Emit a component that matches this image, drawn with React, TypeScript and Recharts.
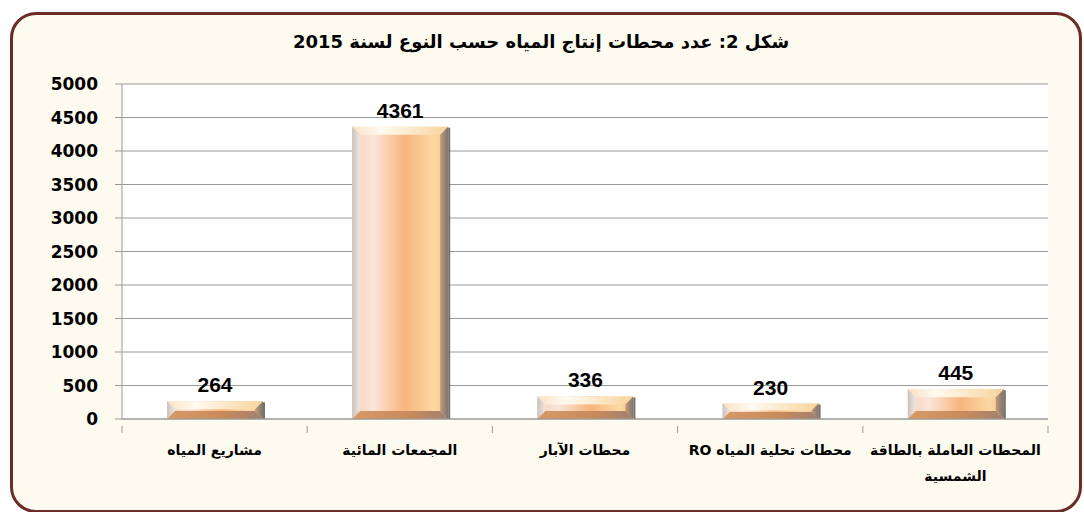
import React from 'react'
import { BarChart, Bar, XAxis, YAxis, CartesianGrid, LabelList } from 'recharts'

const categories = [
  'مشاريع المياه',
  'المجمعات المائية',
  'محطات الآبار',
  'محطات تحلية المياه RO',
  'المحطات العاملة بالطاقة الشمسية',
]
const stations = [264, 4361, 336, 230, 445]
const yTicks = [0, 500, 1000, 1500, 2000, 2500, 3000, 3500, 4000, 4500, 5000]
const title = 'شكل 2: عدد محطات إنتاج المياه حسب النوع لسنة 2015'

const chartData = categories.map((name, i) => ({ name, value: stations[i] }))

const BAND = 185.2

// Excel-style bevelled bar
const BevelBar = (props: any) => {
  const { x, y, width, height } = props
  if (!height || height <= 0) return null
  const b = Math.min(8, height / 2.2)
  const r = x + width
  const btm = y + height
  return (
    <g>
      <rect x={x} y={y} width={width} height={height} fill="url(#barBody)" />
      <polygon points={`${x},${y} ${r},${y} ${r - b},${y + b} ${x + b},${y + b}`} fill="url(#bevelTop)" />
      <polygon points={`${x},${y} ${x + b},${y + b} ${x + b},${btm - b} ${x},${btm}`} fill="url(#bevelLeft)" />
      <polygon points={`${r},${y} ${r},${btm} ${r - b},${btm - b} ${r - b},${y + b}`} fill="url(#bevelRight)" />
      <polygon points={`${x},${btm} ${x + b},${btm - b} ${r - b},${btm - b} ${r},${btm}`} fill="url(#bevelBottom)" />
      <line x1={r + 1} y1={y + 1} x2={r + 1} y2={btm} stroke="#77716c" strokeWidth={2} />
    </g>
  )
}

const XTick = (props: any) => {
  const { x, y, payload, index } = props
  const text: string = payload.value
  let lines = [text]
  if (text.length > 25) {
    const cut = text.lastIndexOf(' ')
    lines = [text.slice(0, cut), text.slice(cut + 1)]
  }
  const left = x - BAND / 2
  return (
    <g>
      <line x1={left} y1={y - 1} x2={left} y2={y + 6} stroke="#999" />
      {index === categories.length - 1 && (
        <line x1={x + BAND / 2} y1={y - 1} x2={x + BAND / 2} y2={y + 6} stroke="#999" />
      )}
      <text
        x={x}
        y={y + 28}
        textAnchor="middle"
        direction="rtl"
        fontFamily="DejaVu Sans"
        fontWeight="bold"
        fontSize={14}
        fill="#000"
      >
        {lines.map((l, i) => (
          <tspan key={i} x={x} dy={i === 0 ? 0 : 26}>
            {l}
          </tspan>
        ))}
      </text>
    </g>
  )
}

export default function App() {
  return (
    <div style={{ position: 'absolute', left: 0, top: 0, width: 1084, height: 512, overflow: 'hidden' }}>
      <svg width={0} height={0} style={{ position: 'absolute' }}>
        <defs>
          <linearGradient id="barBody" x1="0" y1="0" x2="1" y2="0">
            <stop offset="0%" stopColor="#f5d2b4" />
            <stop offset="22%" stopColor="#fbe4da" />
            <stop offset="55%" stopColor="#f7b57c" />
            <stop offset="85%" stopColor="#fcd8a2" />
            <stop offset="100%" stopColor="#f4c08c" />
          </linearGradient>
          <linearGradient id="bevelTop" x1="0" y1="0" x2="1" y2="0">
            <stop offset="0%" stopColor="#fbe2c6" />
            <stop offset="30%" stopColor="#fffaf0" />
            <stop offset="100%" stopColor="#f8d39c" />
          </linearGradient>
          <linearGradient id="bevelLeft" x1="0" y1="0" x2="1" y2="0">
            <stop offset="0%" stopColor="#c9c2bf" />
            <stop offset="100%" stopColor="#f2e6e0" />
          </linearGradient>
          <linearGradient id="bevelRight" x1="0" y1="0" x2="1" y2="0">
            <stop offset="0%" stopColor="#c09a78" />
            <stop offset="100%" stopColor="#7e746e" />
          </linearGradient>
          <linearGradient id="bevelBottom" x1="0" y1="0" x2="1" y2="0">
            <stop offset="0%" stopColor="#d79a66" />
            <stop offset="60%" stopColor="#c88a5c" />
            <stop offset="100%" stopColor="#a08070" />
          </linearGradient>
        </defs>
      </svg>
      <div
        style={{
          position: 'absolute',
          left: 10,
          top: 12,
          width: 1072,
          height: 501,
          boxSizing: 'border-box',
          border: '3px solid #6b2b26',
          borderRadius: 26,
          background: '#fdfaf0',
        }}
      />
      <div
        dir="rtl"
        style={{
          position: 'absolute',
          left: 0,
          top: 31,
          width: 1082,
          textAlign: 'center',
          fontFamily: 'DejaVu Sans',
          fontWeight: 'bold',
          fontSize: 18,
          color: '#000',
        }}
      >
        {title}
      </div>
      <div style={{ position: 'absolute', left: 0, top: 0 }}>
        <BarChart
          width={1084}
          height={512}
          data={chartData}
          margin={{ top: 84, right: 36, bottom: 0, left: 12 }}
        >
          <CartesianGrid vertical={false} stroke="#9a9a9a" fill="#ffffff" fillOpacity={1} />
          <XAxis
            dataKey="name"
            height={93}
            interval={0}
            tickLine={false}
            axisLine={{ stroke: '#999' }}
            tick={<XTick />}
          />
          <YAxis
            width={110}
            domain={[0, 5000]}
            ticks={yTicks}
            interval={0}
            tickSize={7}
            tickMargin={17}
            axisLine={{ stroke: '#999' }}
            tickLine={{ stroke: '#999' }}
            tick={{ fill: '#000', fontFamily: 'DejaVu Sans', fontWeight: 'bold', fontSize: 17 }}
          />
          <Bar dataKey="value" barSize={96} shape={<BevelBar />} isAnimationActive={false}>
            <LabelList
              dataKey="value"
              position="top"
              offset={9}
              fill="#000"
              fontFamily="Liberation Sans, Arial"
              fontWeight="bold"
              fontSize={21}
            />
          </Bar>
        </BarChart>
      </div>
    </div>
  )
}
